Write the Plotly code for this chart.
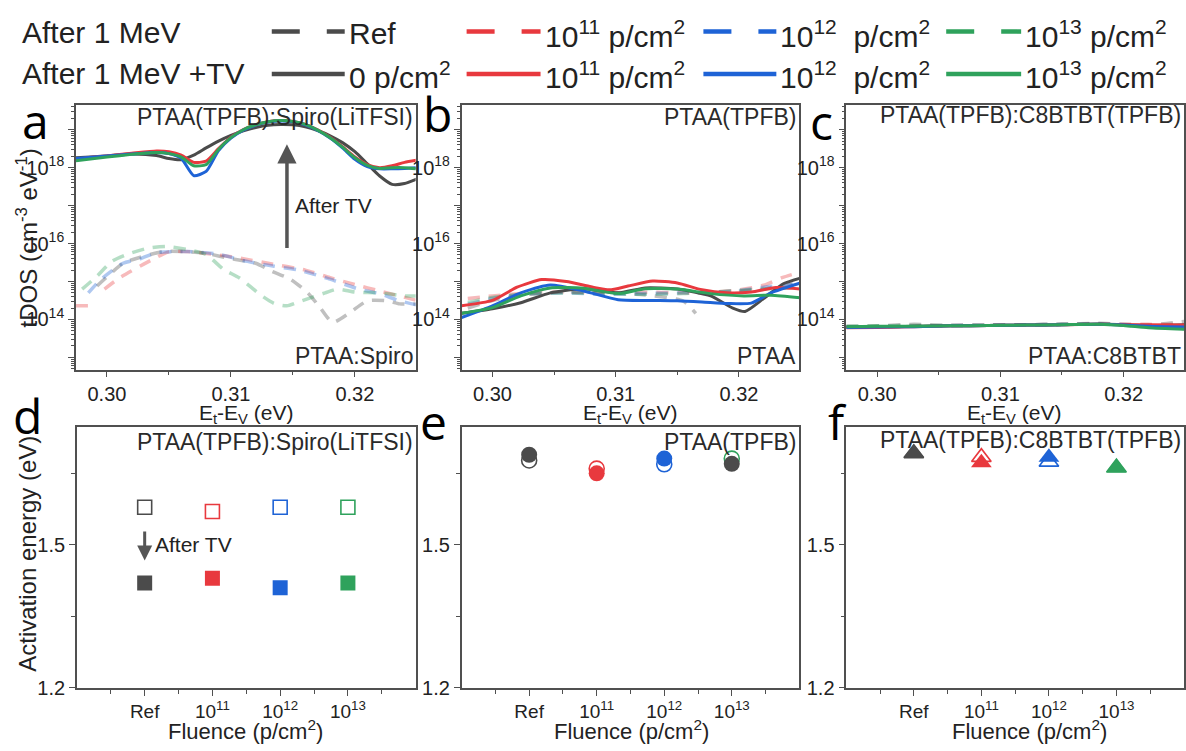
import plotly.graph_objects as go

W, H = 1186, 751
GRAY, RED, BLUE, GREEN = "#4b4b4b", "#e8393e", "#1e63d6", "#2fa25c"
COLORS = [GRAY, RED, BLUE, GREEN]
FONT = "'Liberation Sans', Arial, Helvetica, sans-serif"
TXT = "#222222"
AX = "#505050"

# ---------------- data: panel a (log10 of tDOS) ----------------
a_x = [0.2975, 0.299, 0.300, 0.302, 0.304, 0.305, 0.306, 0.307, 0.308, 0.309, 0.310, 0.311, 0.312,
       0.313, 0.314, 0.315, 0.316, 0.317, 0.318, 0.319, 0.320, 0.321, 0.322, 0.323, 0.324, 0.325]
a_tv_ref = [18.26, 18.29, 18.31, 18.36, 18.32, 18.24, 18.21, 18.33, 18.52, 18.70, 18.85, 18.97, 19.06,
            19.12, 19.14, 19.13, 19.08, 18.98, 18.84, 18.66, 18.42, 18.10, 17.78, 17.56, 17.58, 17.70]
a_tv_1e11 = [18.22, 18.28, 18.31, 18.38, 18.44, 18.42, 18.33, 18.14, 18.17, 18.50, 18.80, 19.00, 19.13,
             19.21, 19.24, 19.22, 19.14, 19.00, 18.80, 18.55, 18.28, 18.08, 18.00, 18.05, 18.14, 18.20]
a_tv_1e12 = [18.24, 18.28, 18.31, 18.36, 18.40, 18.37, 18.24, 17.79, 17.90, 18.45, 18.78, 18.99, 19.12,
             19.20, 19.23, 19.21, 19.13, 18.98, 18.78, 18.52, 18.22, 18.03, 17.97, 17.97, 17.98, 18.00]
a_tv_1e13 = [18.18, 18.24, 18.28, 18.35, 18.40, 18.37, 18.28, 18.05, 18.08, 18.48, 18.79, 19.00, 19.13,
             19.21, 19.24, 19.22, 19.14, 18.99, 18.79, 18.54, 18.26, 18.06, 17.98, 18.00, 18.00, 17.97]

a_mev_ref_x = [0.2992, 0.3013, 0.3021, 0.3045, 0.306, 0.308, 0.310, 0.312, 0.3133, 0.3148, 0.3162,
               0.3172, 0.3182, 0.3196, 0.321, 0.3226, 0.3236, 0.325]
a_mev_ref = [14.88, 15.48, 15.58, 15.79, 15.79, 15.74, 15.60, 15.48, 15.27, 15.06, 14.70,
             14.31, 13.92, 14.18, 14.49, 14.49, 14.41, 14.41]
a_mev_1e11_x = [0.2975, 0.2986, 0.2992, 0.2998, 0.301, 0.3035, 0.305, 0.307, 0.309, 0.311, 0.313,
                0.316, 0.318, 0.320, 0.322, 0.325]
a_mev_1e11 = [14.36, 14.36, None, 14.80, 15.09, 15.55, 15.78, 15.78, 15.70, 15.60, 15.48,
              15.30, 15.10, 14.92, 14.75, 14.50]
a_mev_1e12_x = [0.2985, 0.2995, 0.3013, 0.3027, 0.304, 0.3065, 0.309, 0.311, 0.3135, 0.3155,
                0.3178, 0.3205, 0.322, 0.3235, 0.325]
a_mev_1e12 = [14.70, 15.05, 15.48, 15.60, 15.76, 15.79, 15.72, 15.55, 15.40, 15.30,
              15.08, 14.78, 14.68, 14.50, 14.38]
a_mev_1e13_x = [0.298, 0.2992, 0.3004, 0.3016, 0.3032, 0.3048, 0.3065, 0.308, 0.3094, 0.3107, 0.3125,
                0.3135, 0.3145, 0.3157, 0.3176, 0.3186, 0.320, 0.322, 0.324, 0.325]
a_mev_1e13 = [14.80, 15.14, 15.53, 15.71, 15.87, 15.92, 15.84, 15.71, 15.32, 15.09, 14.62,
              14.42, 14.36, 14.49, 14.70, 14.80, 14.72, 14.70, 14.62, 14.62]

# ---------------- data: panel b ----------------
b_ref_x = [0.2975, 0.300, 0.3023, 0.3047, 0.3074, 0.3102, 0.3124, 0.315, 0.3177, 0.3195, 0.3205, 0.322, 0.3236, 0.325]
b_tv_ref = [14.16, 14.28, 14.44, 14.70, 14.81, 14.70, 14.83, 14.80, 14.62, 14.30, 14.21, 14.55, 14.94, 15.09]
b_1e11_x = [0.2975, 0.300, 0.302, 0.304, 0.306, 0.308, 0.3095, 0.311, 0.313, 0.315, 0.317, 0.319, 0.321, 0.323, 0.325]
b_tv_1e11 = [14.36, 14.50, 14.85, 15.05, 15.00, 14.86, 14.78, 14.88, 15.01, 14.96, 14.78, 14.70, 14.72, 14.84, 14.80]
b_1e12_x = [0.2975, 0.300, 0.3023, 0.3047, 0.3074, 0.3102, 0.3125, 0.315, 0.317, 0.3191, 0.321, 0.3226, 0.325]
b_tv_1e12 = [14.05, 14.36, 14.70, 14.91, 14.75, 14.52, 14.50, 14.49, 14.46, 14.42, 14.43, 14.70, 14.96]
b_1e13_x = [0.2975, 0.300, 0.3023, 0.3047, 0.3074, 0.3102, 0.3124, 0.315, 0.3177, 0.3204, 0.3226, 0.325]
b_tv_1e13 = [14.16, 14.31, 14.62, 14.83, 14.82, 14.68, 14.81, 14.80, 14.68, 14.62, 14.64, 14.57]

b_mev_x = [0.298, 0.300, 0.303, 0.306, 0.309, 0.312, 0.3155, 0.3165, 0.318, 0.320, 0.322, 0.3235, 0.325]
b_mev_ref = [14.30, 14.50, 14.66, 14.72, 14.70, 14.66, 14.48, 14.16, None, 14.74, 14.80, 14.90, 14.95]
b_mev_1e11 = [14.55, 14.62, 14.70, 14.72, 14.70, 14.72, 14.70, 14.70, 14.72, 14.78, 14.90, 15.10, 15.25]
b_mev_1e12 = [14.40, 14.55, 14.68, 14.70, 14.66, 14.68, 14.70, 14.71, 14.72, 14.76, 14.85, 14.90, 14.95]
b_mev_1e13 = [14.45, 14.58, 14.68, 14.70, 14.68, 14.66, 14.68, 14.70, 14.72, 14.76, 14.80, 14.82, 14.85]

# ---------------- data: panel c ----------------
c_x = [0.2975, 0.300, 0.303, 0.306, 0.309, 0.312, 0.315, 0.318, 0.320, 0.322, 0.325]
c_tv_ref = [13.80, 13.80, 13.82, 13.83, 13.84, 13.85, 13.86, 13.88, 13.86, 13.84, 13.86]
c_tv_1e11 = [13.78, 13.79, 13.81, 13.83, 13.84, 13.85, 13.86, 13.87, 13.86, 13.86, 13.85]
c_tv_1e12 = [13.79, 13.80, 13.81, 13.83, 13.84, 13.85, 13.86, 13.87, 13.85, 13.82, 13.80]
c_tv_1e13 = [13.81, 13.82, 13.82, 13.83, 13.84, 13.85, 13.86, 13.87, 13.84, 13.78, 13.74]
c_mev_ref = [13.82, 13.83, 13.87, 13.84, 13.85, 13.86, 13.87, 13.90, 13.87, 13.85, 13.95]
c_mev_1e11 = [13.80, 13.80, 13.82, 13.84, 13.85, 13.86, 13.87, 13.88, 13.87, 13.87, 13.86]
c_mev_1e12 = [13.80, 13.81, 13.82, 13.84, 13.85, 13.86, 13.87, 13.88, 13.86, 13.83, 13.81]
c_mev_1e13 = [13.82, 13.83, 13.84, 13.84, 13.85, 13.86, 13.87, 13.88, 13.85, 13.80, 13.76]

# ---------------- data: activation energies ----------------
categories = ["Ref", "10<sup>11</sup>", "10<sup>12</sup>", "10<sup>13</sup>"]
d_mev = [1.579, 1.570, 1.579, 1.579]
d_tv = [1.420, 1.430, 1.410, 1.420]
e_mev = [1.677, 1.660, 1.669, 1.681]
e_tv = [1.689, 1.650, 1.681, 1.670]
e_tv_colors = [GRAY, RED, BLUE, GRAY]
f_mev = [1.692, 1.684, 1.674, 1.662]
f_tv = [1.692, 1.672, 1.684, 1.662]

legend_row1 = ["Ref", "10<sup>11</sup> p/cm<sup>2</sup>", "10<sup>12</sup>  p/cm<sup>2</sup>", "10<sup>13</sup> p/cm<sup>2</sup>"]
legend_row2 = ["0 p/cm<sup>2</sup>", "10<sup>11</sup> p/cm<sup>2</sup>", "10<sup>12</sup>  p/cm<sup>2</sup>", "10<sup>13</sup> p/cm<sup>2</sup>"]


def p10(vals):
    return [None if v is None else 10.0 ** v for v in vals]


def xd(px0, px1):
    return [px0 / W, px1 / W]


def yd(py_bottom, py_top):
    return [1 - py_bottom / H, 1 - py_top / H]


fig = go.Figure()

# ---------- top row traces ----------
top_sets = [
    ("x", "y",
     [(a_mev_ref_x, a_mev_ref), (a_mev_1e11_x, a_mev_1e11), (a_mev_1e12_x, a_mev_1e12), (a_mev_1e13_x, a_mev_1e13)],
     [(a_x, a_tv_ref), (a_x, a_tv_1e11), (a_x, a_tv_1e12), (a_x, a_tv_1e13)]),
    ("x2", "y2",
     [(b_mev_x, b_mev_ref), (b_mev_x, b_mev_1e11), (b_mev_x, b_mev_1e12), (b_mev_x, b_mev_1e13)],
     [(b_ref_x, b_tv_ref), (b_1e11_x, b_tv_1e11), (b_1e12_x, b_tv_1e12), (b_1e13_x, b_tv_1e13)]),
    ("x3", "y3",
     [(c_x, c_mev_ref), (c_x, c_mev_1e11), (c_x, c_mev_1e12), (c_x, c_mev_1e13)],
     [(c_x, c_tv_ref), (c_x, c_tv_1e11), (c_x, c_tv_1e12), (c_x, c_tv_1e13)]),
]
for xa, ya, mev, tv in top_sets:
    for (xs, ys), col in zip(mev, COLORS):
        fig.add_trace(go.Scatter(x=xs, y=p10(ys), xaxis=xa, yaxis=ya, mode="lines",
                                 line=dict(color=col, width=3.5, dash="12px,9px", shape="spline", smoothing=0.6),
                                 opacity=0.35, showlegend=False, connectgaps=False))
    for (xs, ys), col in zip(tv, COLORS):
        fig.add_trace(go.Scatter(x=xs, y=p10(ys), xaxis=xa, yaxis=ya, mode="lines",
                                 line=dict(color=col, width=3, shape="spline", smoothing=0.6),
                                 showlegend=False))

# ---------- bottom row traces ----------
idx = list(range(len(categories)))
fig.add_trace(go.Scatter(x=idx, y=d_mev, xaxis="x4", yaxis="y4", mode="markers",
                         marker=dict(symbol="square-open", size=14, color=COLORS, line=dict(width=1.6)),
                         showlegend=False))
fig.add_trace(go.Scatter(x=idx, y=d_tv, xaxis="x4", yaxis="y4", mode="markers",
                         marker=dict(symbol="square", size=15, color=COLORS, line=dict(width=0)),
                         showlegend=False))
fig.add_trace(go.Scatter(x=idx, y=e_mev, xaxis="x5", yaxis="y5", mode="markers",
                         marker=dict(symbol="circle-open", size=15, color=COLORS, line=dict(width=1.6)),
                         showlegend=False))
fig.add_trace(go.Scatter(x=idx, y=e_tv, xaxis="x5", yaxis="y5", mode="markers",
                         marker=dict(symbol="circle", size=16, color=e_tv_colors, line=dict(width=0)),
                         showlegend=False))
fig.add_trace(go.Scatter(x=idx, y=f_mev, xaxis="x6", yaxis="y6", mode="markers",
                         marker=dict(symbol="triangle-up-open", size=17, color=COLORS, line=dict(width=1.6)),
                         showlegend=False))
fig.add_trace(go.Scatter(x=idx, y=f_tv, xaxis="x6", yaxis="y6", mode="markers",
                         marker=dict(symbol="triangle-up", size=18, color=COLORS, line=dict(width=0)),
                         showlegend=False))

# ---------- axes ----------
common = dict(showline=True, linecolor=AX, linewidth=1.5, mirror=True, ticks="outside",
              ticklen=6, tickwidth=1.3, tickcolor=AX, showgrid=False, zeroline=False,
              tickfont=dict(family=FONT, size=20, color=TXT))

log_major = [10.0 ** k for k in range(13, 20)]
log_text = ["" if k % 2 else "10<sup>%d</sup>" % k for k in range(13, 20)]
log_minor = [m * 10.0 ** k for k in range(12, 20) for m in range(2, 10)]

top_x = dict(common, range=[0.2975, 0.3249], tickvals=[0.30, 0.31, 0.32], ticktext=["0.30", "0.31", "0.32"],
             minor=dict(tickvals=[0.305, 0.315], ticks="outside", ticklen=4, tickcolor=AX))
top_y = dict(common, type="log", range=[12.68, 19.64], tickvals=log_major, ticktext=log_text,
             minor=dict(tickvals=log_minor, ticks="outside", ticklen=3, tickcolor=AX))
bot_x = dict(common, range=[-1, 4], tickvals=idx, ticktext=categories,
             tickfont=dict(family=FONT, size=19, color=TXT),
             minor=dict(tickvals=[-0.5, 0.5, 1.5, 2.5, 3.5], ticks="outside", ticklen=4, tickcolor=AX))
bot_y = dict(common, range=[1.2, 1.748], tickvals=[1.2, 1.5], ticktext=["1.2", "1.5"],
             minor=dict(tickvals=[1.35, 1.65], ticks="outside", ticklen=4, tickcolor=AX))

TOP = yd(375, 107)
BOT = yd(698, 433)
layout_axes = dict(
    xaxis=dict(top_x, domain=xd(76, 416), anchor="y"),
    yaxis=dict(top_y, domain=TOP, anchor="x"),
    xaxis2=dict(top_x, domain=xd(462, 800), anchor="y2"),
    yaxis2=dict(top_y, domain=TOP, anchor="x2"),
    xaxis3=dict(top_x, domain=xd(847, 1185), anchor="y3"),
    yaxis3=dict(top_y, domain=TOP, anchor="x3"),
    xaxis4=dict(bot_x, domain=xd(77, 416), anchor="y4"),
    yaxis4=dict(bot_y, domain=BOT, anchor="x4"),
    xaxis5=dict(bot_x, domain=xd(462, 800), anchor="y5"),
    yaxis5=dict(bot_y, domain=BOT, anchor="x5"),
    xaxis6=dict(bot_x, domain=xd(847, 1185), anchor="y6"),
    yaxis6=dict(bot_y, domain=BOT, anchor="x6"),
)

ann = []


def paper_text(text, px, py, size, xanchor="center", color=TXT, family=FONT, angle=0):
    ann.append(dict(text=text, x=px / W, y=1 - py / H, xref="paper", yref="paper", showarrow=False,
                    xanchor=xanchor, yanchor="middle", textangle=angle,
                    font=dict(family=family, size=size, color=color)))


# panel letters
LET = "'Open Sans', 'Noto Sans', sans-serif"
for t, px, py in [("a", 36, 122), ("b", 438, 115), ("c", 822, 123), ("d", 28, 422), ("e", 434, 428), ("f", 838, 428)]:
    paper_text(t, px, py, 48, family=LET, color="#000000")

# axis titles
for cx in (246, 631, 1015):
    paper_text("E<sub>t</sub>-E<sub>V</sub> (eV)", cx, 420, 21)
for cx in (246, 632, 1030):
    paper_text("Fluence (p/cm<sup>2</sup>)", cx, 741, 22)
paper_text("tDOS (cm<sup>-3</sup> eV<sup>-1</sup>)", 27, 241, 24, angle=-90)
paper_text("Activation energy (eV)", 28, 562, 24, angle=-90)

# in-panel labels
def dom_text(text, xa, ya, yfrac, size=23):
    ann.append(dict(text=text, x=1, y=yfrac, xref=xa + " domain", yref=ya + " domain", showarrow=False,
                    xanchor="right", yanchor="middle", xshift=-1,
                    font=dict(family=FONT, size=size, color="#2a2a2a")))


dom_text("PTAA(TPFB):Spiro(LiTFSI)", "x", "y", 0.957)
dom_text("PTAA:Spiro", "x", "y", 0.05)
dom_text("PTAA(TPFB)", "x2", "y2", 0.957)
dom_text("PTAA", "x2", "y2", 0.05)
dom_text("PTAA(TPFB):C8BTBT(TPFB)", "x3", "y3", 0.965)
dom_text("PTAA:C8BTBT", "x3", "y3", 0.05)
dom_text("PTAA(TPFB):Spiro(LiTFSI)", "x4", "y4", 0.943)
dom_text("PTAA(TPFB)", "x5", "y5", 0.943)
dom_text("PTAA(TPFB):C8BTBT(TPFB)", "x6", "y6", 0.948)

# arrows
ann.append(dict(x=0.31452, y=18.62, ax=0.31452, ay=15.84, xref="x", yref="y", axref="x", ayref="y",
                text="", showarrow=True, arrowhead=2, arrowsize=1.1, arrowwidth=3.5, arrowcolor="#555555"))
ann.append(dict(x=0.3150, y=17.01, xref="x", yref="y", text="After TV", showarrow=False, xanchor="left",
                yanchor="middle", font=dict(family=FONT, size=21, color=TXT)))
ann.append(dict(x=0, y=1.467, ax=0, ay=1.531, xref="x4", yref="y4", axref="x4", ayref="y4",
                text="", showarrow=True, arrowhead=2, arrowsize=1.0, arrowwidth=3, arrowcolor="#555555"))
ann.append(dict(x=0.13, y=1.50, xref="x4", yref="y4", text="After TV", showarrow=False, xanchor="left",
                yanchor="middle", font=dict(family=FONT, size=21, color=TXT)))

# manual legend
shapes = []
paper_text("After 1 MeV", 20, 33, 30, xanchor="left")
paper_text("After 1 MeV +TV", 20, 75, 30, xanchor="left")
line_x = [(272, 345), (467, 541), (704, 777), (947, 1022)]
for (x0, x1), col, t1, t2 in zip(line_x, COLORS, legend_row1, legend_row2):
    shapes.append(dict(type="line", xref="paper", yref="paper", x0=x0 / W, x1=x1 / W, y0=1 - 32 / H, y1=1 - 32 / H,
                       line=dict(color=col, width=4.5, dash="28px,27px")))
    shapes.append(dict(type="line", xref="paper", yref="paper", x0=x0 / W, x1=x1 / W, y0=1 - 75 / H, y1=1 - 75 / H,
                       line=dict(color=col, width=4.5)))
    paper_text(t1, x1 + 2, 34, 30, xanchor="left")
    paper_text(t2, x1 + 2, 76, 30, xanchor="left")

fig.update_layout(
    width=W, height=H, margin=dict(l=0, r=0, t=0, b=0),
    paper_bgcolor="white", plot_bgcolor="white",
    showlegend=False, annotations=ann, shapes=shapes,
    font=dict(family=FONT, color=TXT),
    **layout_axes,
)

fig.write_html("out.html", config={"displayModeBar": False},
               post_script="document.body.style.margin='0px';document.body.style.overflow='hidden';")
